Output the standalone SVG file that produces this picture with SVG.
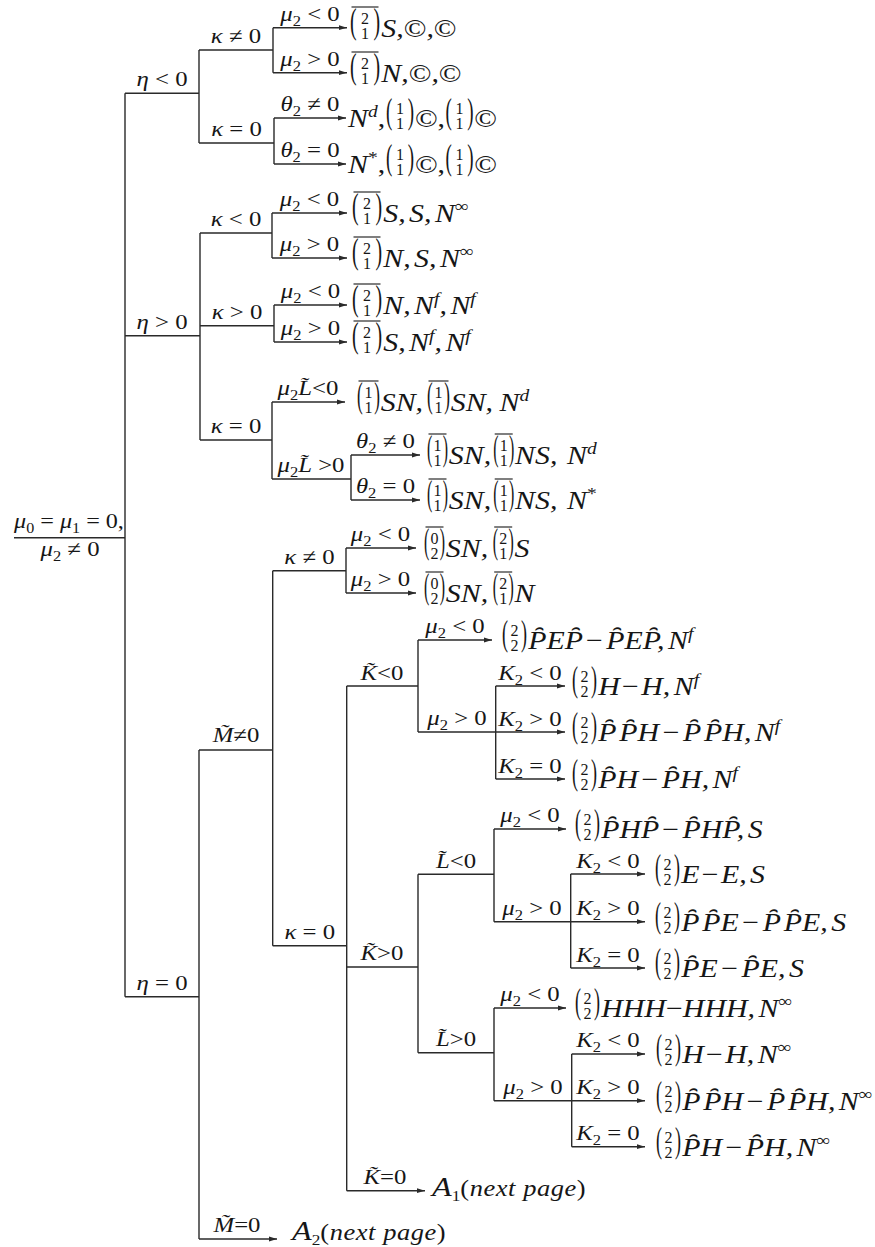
<svg xmlns="http://www.w3.org/2000/svg" width="875" height="1247" viewBox="0 0 875 1247">
<defs>
<marker id="ah" markerWidth="8" markerHeight="6" refX="8" refY="3" orient="auto" markerUnits="userSpaceOnUse"><path d="M0,0.6 L8,3 L0,5.4 z" fill="#2a2a2a"/></marker>
</defs>
<style>
.ln{fill:none;stroke:#2a2a2a;stroke-width:1.4}
.ar{marker-end:url(#ah)}
text{font-family:"Liberation Serif","Times New Roman",serif;fill:#161616}
.lb{font-size:21px;text-anchor:middle}
.rt{font-size:26px;font-style:italic;word-spacing:-3.5px}
.u{font-style:normal}
.i{font-style:italic}
.sb{font-size:14px}
.sp{font-size:17px}
.bp{font-size:18px;font-style:normal}
.bd{font-size:16px;text-anchor:middle;font-style:normal}
.bar{stroke:#2a2a2a;stroke-width:1.2}
</style>
<rect width="875" height="1247" fill="#ffffff"/>

<g id="connectors">
<path class="ln" d="M14,537.7H125 M125,93.3V996.7"/>
<path class="ln" d="M125,93.3H199 M199,50V143 M199,50H273 M273,27.7V72.7 M199,143H274 M274,118V164"/>
<path class="ln" d="M125,335.7H200 M200,233V440 M200,233H272 M272,213V258 M200,325.7H274 M274,305V342 M200,440H272 M272,402V479 M272,479H351 M351,455V500"/>
<path class="ln" d="M125,996.7H199 M199,750V1239 M199,750H272.7 M272.7,570.7V945.7 M272.7,570.7H346 M346,548V593 M272.7,945.7H346.7 M346.7,686V1190.7"/>
<path class="ln" d="M346.7,686H418 M418,640V732 M418,732H495.7 M495.7,686V779"/>
<path class="ln" d="M346.7,967H418 M418,874.3V1052.7 M418,874.3H494 M494,829V921.7 M494,921.7H570.7 M570.7,874V968 M418,1052.7H494 M494,1008V1100.7 M494,1100.7H571.7 M571.7,1054V1146.7"/>
<path class="ln ar" d="M273,27.7H347"/>
<path class="ln ar" d="M273,72.7H347"/>
<path class="ln ar" d="M274,118H346"/>
<path class="ln ar" d="M274,164H346"/>
<path class="ln ar" d="M272,213H347"/>
<path class="ln ar" d="M272,258H347"/>
<path class="ln ar" d="M274,305H347"/>
<path class="ln ar" d="M274,342H347"/>
<path class="ln ar" d="M272,402H345"/>
<path class="ln ar" d="M351,455H420"/>
<path class="ln ar" d="M351,500H420"/>
<path class="ln ar" d="M346,548H416"/>
<path class="ln ar" d="M346,593H416"/>
<path class="ln ar" d="M418,640H492"/>
<path class="ln ar" d="M495.7,686H565"/>
<path class="ln ar" d="M495.7,732H565"/>
<path class="ln ar" d="M495.7,779H565"/>
<path class="ln ar" d="M494,829H566"/>
<path class="ln ar" d="M570.7,874H645"/>
<path class="ln ar" d="M570.7,921.7H645"/>
<path class="ln ar" d="M570.7,968H645"/>
<path class="ln ar" d="M494,1008H566"/>
<path class="ln ar" d="M571.7,1054H645"/>
<path class="ln ar" d="M571.7,1100.7H645"/>
<path class="ln ar" d="M571.7,1146.7H645"/>
<path class="ln ar" d="M346.7,1190.7H425"/>
<path class="ln ar" d="M199,1239H277"/>
</g>

<g id="root">
<text class="lb" transform="translate(69,528) scale(1.15,1)"><tspan class="i">μ</tspan><tspan class="sb" dy="4.5">0</tspan><tspan dy="-4.5"> = </tspan><tspan class="i">μ</tspan><tspan class="sb" dy="4.5">1</tspan><tspan dy="-4.5"> = 0,</tspan></text>
<text class="lb" transform="translate(70,556) scale(1.18,1)"><tspan class="i">μ</tspan><tspan class="sb" dy="4.5">2</tspan><tspan dy="-4.5"> ≠ 0</tspan></text>
</g>

<g id="labels">
<g id="n-eta-neg"><text class="lb" transform="translate(162,86) scale(1.18,1)"><tspan class="i">η</tspan> &lt; 0</text></g>
<g id="n-a-kappa-ne"><text class="lb" transform="translate(236,43) scale(1.18,1)"><tspan class="i">κ</tspan> ≠ 0</text></g>
<g id="n-a1"><text class="lb" transform="translate(310,21) scale(1.18,1)"><tspan class="i">μ</tspan><tspan class="sb" dy="4.5">2</tspan><tspan dy="-4.5"> &lt; 0</tspan></text></g>
<g id="n-a2"><text class="lb" transform="translate(310,66) scale(1.18,1)"><tspan class="i">μ</tspan><tspan class="sb" dy="4.5">2</tspan><tspan dy="-4.5"> &gt; 0</tspan></text></g>
<g id="n-a-kappa-eq"><text class="lb" transform="translate(236.5,136) scale(1.18,1)"><tspan class="i">κ</tspan> = 0</text></g>
<g id="n-a3"><text class="lb" transform="translate(310,111) scale(1.18,1)"><tspan class="i">θ</tspan><tspan class="sb" dy="4.5">2</tspan><tspan dy="-4.5"> ≠ 0</tspan></text></g>
<g id="n-a4"><text class="lb" transform="translate(310,157) scale(1.18,1)"><tspan class="i">θ</tspan><tspan class="sb" dy="4.5">2</tspan><tspan dy="-4.5"> = 0</tspan></text></g>

<g id="n-eta-pos"><text class="lb" transform="translate(162,329) scale(1.18,1)"><tspan class="i">η</tspan> &gt; 0</text></g>
<g id="n-b-kappa-neg"><text class="lb" transform="translate(236,226) scale(1.18,1)"><tspan class="i">κ</tspan> &lt; 0</text></g>
<g id="n-b1"><text class="lb" transform="translate(309.5,206) scale(1.18,1)"><tspan class="i">μ</tspan><tspan class="sb" dy="4.5">2</tspan><tspan dy="-4.5"> &lt; 0</tspan></text></g>
<g id="n-b2"><text class="lb" transform="translate(309.5,251) scale(1.18,1)"><tspan class="i">μ</tspan><tspan class="sb" dy="4.5">2</tspan><tspan dy="-4.5"> &gt; 0</tspan></text></g>
<g id="n-b-kappa-pos"><text class="lb" transform="translate(237,319) scale(1.18,1)"><tspan class="i">κ</tspan> &gt; 0</text></g>
<g id="n-b3"><text class="lb" transform="translate(310.5,298) scale(1.18,1)"><tspan class="i">μ</tspan><tspan class="sb" dy="4.5">2</tspan><tspan dy="-4.5"> &lt; 0</tspan></text></g>
<g id="n-b4"><text class="lb" transform="translate(310.5,335) scale(1.18,1)"><tspan class="i">μ</tspan><tspan class="sb" dy="4.5">2</tspan><tspan dy="-4.5"> &gt; 0</tspan></text></g>
<g id="n-b-kappa-eq"><text class="lb" transform="translate(236,433) scale(1.18,1)"><tspan class="i">κ</tspan> = 0</text></g>
<g id="n-b5"><text class="lb" transform="translate(308,395) scale(1.18,1)"><tspan class="i">μ</tspan><tspan class="sb" dy="4.5">2</tspan><tspan class="i" dy="-4.5">L&#x303;</tspan>&lt;0</text></g>
<g id="n-b6"><text class="lb" transform="translate(311,472) scale(1.18,1)"><tspan class="i">μ</tspan><tspan class="sb" dy="4.5">2</tspan><tspan class="i" dy="-4.5">L&#x303;</tspan> &gt;0</text></g>
<g id="n-b7"><text class="lb" transform="translate(385.5,448) scale(1.18,1)"><tspan class="i">θ</tspan><tspan class="sb" dy="4.5">2</tspan><tspan dy="-4.5"> ≠ 0</tspan></text></g>
<g id="n-b8"><text class="lb" transform="translate(385.5,493) scale(1.18,1)"><tspan class="i">θ</tspan><tspan class="sb" dy="4.5">2</tspan><tspan dy="-4.5"> = 0</tspan></text></g>

<g id="n-eta-eq"><text class="lb" transform="translate(162,990) scale(1.18,1)"><tspan class="i">η</tspan> = 0</text></g>
<g id="n-M-ne"><text class="lb" transform="translate(236,742) scale(1.18,1)"><tspan class="i">M&#x303;</tspan>≠0</text></g>
<g id="n-c-kappa-ne"><text class="lb" transform="translate(309.5,564) scale(1.18,1)"><tspan class="i">κ</tspan> ≠ 0</text></g>
<g id="n-c1"><text class="lb" transform="translate(380.5,541) scale(1.18,1)"><tspan class="i">μ</tspan><tspan class="sb" dy="4.5">2</tspan><tspan dy="-4.5"> &lt; 0</tspan></text></g>
<g id="n-c2"><text class="lb" transform="translate(380.5,586) scale(1.18,1)"><tspan class="i">μ</tspan><tspan class="sb" dy="4.5">2</tspan><tspan dy="-4.5"> &gt; 0</tspan></text></g>
<g id="n-c-kappa-eq"><text class="lb" transform="translate(309.7,939) scale(1.18,1)"><tspan class="i">κ</tspan> = 0</text></g>
<g id="n-K-neg"><text class="lb" transform="translate(382,680) scale(1.18,1)"><tspan class="i">K&#x303;</tspan>&lt;0</text></g>
<g id="n-d1"><text class="lb" transform="translate(455,633) scale(1.18,1)"><tspan class="i">μ</tspan><tspan class="sb" dy="4.5">2</tspan><tspan dy="-4.5"> &lt; 0</tspan></text></g>
<g id="n-d2"><text class="lb" transform="translate(457,725) scale(1.18,1)"><tspan class="i">μ</tspan><tspan class="sb" dy="4.5">2</tspan><tspan dy="-4.5"> &gt; 0</tspan></text></g>
<g id="n-d3"><text class="lb" transform="translate(530,680) scale(1.18,1)"><tspan class="i">K</tspan><tspan class="sb" dy="4.5">2</tspan><tspan dy="-4.5"> &lt; 0</tspan></text></g>
<g id="n-d4"><text class="lb" transform="translate(530,726) scale(1.18,1)"><tspan class="i">K</tspan><tspan class="sb" dy="4.5">2</tspan><tspan dy="-4.5"> &gt; 0</tspan></text></g>
<g id="n-d5"><text class="lb" transform="translate(530,773) scale(1.18,1)"><tspan class="i">K</tspan><tspan class="sb" dy="4.5">2</tspan><tspan dy="-4.5"> = 0</tspan></text></g>
<g id="n-K-pos"><text class="lb" transform="translate(382,960) scale(1.18,1)"><tspan class="i">K&#x303;</tspan>&gt;0</text></g>
<g id="n-L-neg"><text class="lb" transform="translate(456,868) scale(1.18,1)"><tspan class="i">L&#x303;</tspan>&lt;0</text></g>
<g id="n-e1"><text class="lb" transform="translate(530,822) scale(1.18,1)"><tspan class="i">μ</tspan><tspan class="sb" dy="4.5">2</tspan><tspan dy="-4.5"> &lt; 0</tspan></text></g>
<g id="n-e2"><text class="lb" transform="translate(532,915) scale(1.18,1)"><tspan class="i">μ</tspan><tspan class="sb" dy="4.5">2</tspan><tspan dy="-4.5"> &gt; 0</tspan></text></g>
<g id="n-e3"><text class="lb" transform="translate(608,868) scale(1.18,1)"><tspan class="i">K</tspan><tspan class="sb" dy="4.5">2</tspan><tspan dy="-4.5"> &lt; 0</tspan></text></g>
<g id="n-e4"><text class="lb" transform="translate(608,915) scale(1.18,1)"><tspan class="i">K</tspan><tspan class="sb" dy="4.5">2</tspan><tspan dy="-4.5"> &gt; 0</tspan></text></g>
<g id="n-e5"><text class="lb" transform="translate(608,962) scale(1.18,1)"><tspan class="i">K</tspan><tspan class="sb" dy="4.5">2</tspan><tspan dy="-4.5"> = 0</tspan></text></g>
<g id="n-L-pos"><text class="lb" transform="translate(456,1046) scale(1.18,1)"><tspan class="i">L&#x303;</tspan>&gt;0</text></g>
<g id="n-f1"><text class="lb" transform="translate(530,1001) scale(1.18,1)"><tspan class="i">μ</tspan><tspan class="sb" dy="4.5">2</tspan><tspan dy="-4.5"> &lt; 0</tspan></text></g>
<g id="n-f2"><text class="lb" transform="translate(533,1094) scale(1.18,1)"><tspan class="i">μ</tspan><tspan class="sb" dy="4.5">2</tspan><tspan dy="-4.5"> &gt; 0</tspan></text></g>
<g id="n-f3"><text class="lb" transform="translate(608,1047) scale(1.18,1)"><tspan class="i">K</tspan><tspan class="sb" dy="4.5">2</tspan><tspan dy="-4.5"> &lt; 0</tspan></text></g>
<g id="n-f4"><text class="lb" transform="translate(608,1094) scale(1.18,1)"><tspan class="i">K</tspan><tspan class="sb" dy="4.5">2</tspan><tspan dy="-4.5"> &gt; 0</tspan></text></g>
<g id="n-f5"><text class="lb" transform="translate(608,1140) scale(1.18,1)"><tspan class="i">K</tspan><tspan class="sb" dy="4.5">2</tspan><tspan dy="-4.5"> = 0</tspan></text></g>
<g id="n-K-eq"><text class="lb" transform="translate(385,1184) scale(1.18,1)"><tspan class="i">K&#x303;</tspan>=0</text></g>
<g id="n-M-eq"><text class="lb" transform="translate(237,1232) scale(1.18,1)"><tspan class="i">M&#x303;</tspan>=0</text></g>
</g>

<g id="results">
<g id="res1" transform="translate(350,37)">
<g><text class="bp" transform="translate(0,-4.3) scale(1.1,1.95)">(</text><text class="bd" x="15" y="-13">2</text><text class="bd" x="15" y="2">1</text><text class="bp" transform="translate(23.4,-4.3) scale(1.1,1.95)">)</text><line class="bar" x1="1.5" y1="-30" x2="28.5" y2="-30"/></g>
<text class="rt" transform="scale(1.15,1)" x="27.2" y="0">S,<tspan class="u">©</tspan>,<tspan class="u">©</tspan></text>
</g>
<g id="res2" transform="translate(350,82)">
<g><text class="bp" transform="translate(0,-4.3) scale(1.1,1.95)">(</text><text class="bd" x="15" y="-13">2</text><text class="bd" x="15" y="2">1</text><text class="bp" transform="translate(23.4,-4.3) scale(1.1,1.95)">)</text><line class="bar" x1="1.5" y1="-30" x2="28.5" y2="-30"/></g>
<text class="rt" transform="scale(1.15,1)" x="27.2" y="0">N,<tspan class="u">©</tspan>,<tspan class="u">©</tspan></text>
</g>
<g id="res3" transform="translate(348,127)">
<text class="rt" transform="scale(1.15,1)" y="0"><tspan x="0">N</tspan><tspan class="sp" dy="-10">d</tspan><tspan class="u" dy="10">,</tspan><tspan class="u" x="58.2">©,</tspan><tspan class="u" x="109.8">©</tspan></text>
<g transform="translate(38,0)"><text class="bp" transform="translate(0,-4.3) scale(1.05,1.95)">(</text><text class="bd" x="14" y="-13">1</text><text class="bd" x="14" y="2">1</text><text class="bp" transform="translate(21.7,-4.3) scale(1.05,1.95)">)</text></g>
<g transform="translate(97.5,0)"><text class="bp" transform="translate(0,-4.3) scale(1.05,1.95)">(</text><text class="bd" x="14" y="-13">1</text><text class="bd" x="14" y="2">1</text><text class="bp" transform="translate(21.7,-4.3) scale(1.05,1.95)">)</text></g>
</g>
<g id="res4" transform="translate(348,173)">
<text class="rt" transform="scale(1.15,1)" y="0"><tspan x="0">N</tspan><tspan class="sp u" dy="-10">*</tspan><tspan class="u" dy="10">,</tspan><tspan class="u" x="58.2">©,</tspan><tspan class="u" x="109.8">©</tspan></text>
<g transform="translate(38,0)"><text class="bp" transform="translate(0,-4.3) scale(1.05,1.95)">(</text><text class="bd" x="14" y="-13">1</text><text class="bd" x="14" y="2">1</text><text class="bp" transform="translate(21.7,-4.3) scale(1.05,1.95)">)</text></g>
<g transform="translate(97.5,0)"><text class="bp" transform="translate(0,-4.3) scale(1.05,1.95)">(</text><text class="bd" x="14" y="-13">1</text><text class="bd" x="14" y="2">1</text><text class="bp" transform="translate(21.7,-4.3) scale(1.05,1.95)">)</text></g>
</g>

<g id="res5" transform="translate(352,222)">
<g><text class="bp" transform="translate(0,-4.3) scale(1.1,1.95)">(</text><text class="bd" x="15" y="-13">2</text><text class="bd" x="15" y="2">1</text><text class="bp" transform="translate(23.4,-4.3) scale(1.1,1.95)">)</text><line class="bar" x1="1.5" y1="-30" x2="28.5" y2="-30"/></g>
<text class="rt" transform="scale(1.15,1)" x="27.2" y="0">S, S, N<tspan class="sp u" dy="-10">∞</tspan></text>
</g>
<g id="res6" transform="translate(352,267)">
<g><text class="bp" transform="translate(0,-4.3) scale(1.1,1.95)">(</text><text class="bd" x="15" y="-13">2</text><text class="bd" x="15" y="2">1</text><text class="bp" transform="translate(23.4,-4.3) scale(1.1,1.95)">)</text><line class="bar" x1="1.5" y1="-30" x2="28.5" y2="-30"/></g>
<text class="rt" transform="scale(1.15,1)" x="27.2" y="0">N, S, N<tspan class="sp u" dy="-10">∞</tspan></text>
</g>
<g id="res7" transform="translate(352,314)">
<g><text class="bp" transform="translate(0,-4.3) scale(1.1,1.95)">(</text><text class="bd" x="15" y="-13">2</text><text class="bd" x="15" y="2">1</text><text class="bp" transform="translate(23.4,-4.3) scale(1.1,1.95)">)</text><line class="bar" x1="1.5" y1="-30" x2="28.5" y2="-30"/></g>
<text class="rt" transform="scale(1.15,1)" x="27.2" y="0">N, N<tspan class="sp" dy="-10">f</tspan><tspan dy="10">, N</tspan><tspan class="sp" dy="-10">f</tspan></text>
</g>
<g id="res8" transform="translate(352,351)">
<g><text class="bp" transform="translate(0,-4.3) scale(1.1,1.95)">(</text><text class="bd" x="15" y="-13">2</text><text class="bd" x="15" y="2">1</text><text class="bp" transform="translate(23.4,-4.3) scale(1.1,1.95)">)</text><line class="bar" x1="1.5" y1="-30" x2="28.5" y2="-30"/></g>
<text class="rt" transform="scale(1.15,1)" x="27.2" y="0">S, N<tspan class="sp" dy="-10">f</tspan><tspan dy="10">, N</tspan><tspan class="sp" dy="-10">f</tspan></text>
</g>
<g id="res9" transform="translate(357,411)">
<g><text class="bp" transform="translate(0,-4.3) scale(0.95,1.95)">(</text><text class="bd" x="11.5" y="-13">1</text><text class="bd" x="11.5" y="2">1</text><text class="bp" transform="translate(17.3,-4.3) scale(0.95,1.95)">)</text><line class="bar" x1="1.5" y1="-30" x2="21.5" y2="-30"/></g>
<g transform="translate(70,0)"><text class="bp" transform="translate(0,-4.3) scale(0.95,1.95)">(</text><text class="bd" x="11.5" y="-13">1</text><text class="bd" x="11.5" y="2">1</text><text class="bp" transform="translate(17.3,-4.3) scale(0.95,1.95)">)</text><line class="bar" x1="1.5" y1="-30" x2="21.5" y2="-30"/></g>
<text class="rt" transform="scale(1.15,1)" y="0"><tspan x="20.65">SN,</tspan><tspan x="81.5">SN,</tspan><tspan x="123.9">N</tspan><tspan class="sp" dy="-10">d</tspan></text>
</g>
<g id="res10" transform="translate(427,464)">
<g><text class="bp" transform="translate(0,-4.3) scale(0.88,1.95)">(</text><text class="bd" x="10.5" y="-13">1</text><text class="bd" x="10.5" y="2">1</text><text class="bp" transform="translate(15.7,-4.3) scale(0.88,1.95)">)</text><line class="bar" x1="1.5" y1="-30" x2="19.5" y2="-30"/></g>
<g transform="translate(66.2,0)"><text class="bp" transform="translate(0,-4.3) scale(0.88,1.95)">(</text><text class="bd" x="10.5" y="-13">1</text><text class="bd" x="10.5" y="2">1</text><text class="bp" transform="translate(15.7,-4.3) scale(0.88,1.95)">)</text><line class="bar" x1="1.5" y1="-30" x2="19.5" y2="-30"/></g>
<text class="rt" transform="scale(1.15,1)" y="0"><tspan x="19">SN,</tspan><tspan x="76.6">NS,</tspan><tspan x="121.7">N</tspan><tspan class="sp" dy="-10">d</tspan></text>
</g>
<g id="res11" transform="translate(427,509)">
<g><text class="bp" transform="translate(0,-4.3) scale(0.88,1.95)">(</text><text class="bd" x="10.5" y="-13">1</text><text class="bd" x="10.5" y="2">1</text><text class="bp" transform="translate(15.7,-4.3) scale(0.88,1.95)">)</text><line class="bar" x1="1.5" y1="-30" x2="19.5" y2="-30"/></g>
<g transform="translate(66.2,0)"><text class="bp" transform="translate(0,-4.3) scale(0.88,1.95)">(</text><text class="bd" x="10.5" y="-13">1</text><text class="bd" x="10.5" y="2">1</text><text class="bp" transform="translate(15.7,-4.3) scale(0.88,1.95)">)</text><line class="bar" x1="1.5" y1="-30" x2="19.5" y2="-30"/></g>
<text class="rt" transform="scale(1.15,1)" y="0"><tspan x="19">SN,</tspan><tspan x="76.6">NS,</tspan><tspan x="121.7">N</tspan><tspan class="sp u" dy="-10">*</tspan></text>
</g>

<g id="res12" transform="translate(424,557)">
<g><text class="bp" transform="translate(0,-4.3) scale(0.88,1.95)">(</text><text class="bd" x="10.5" y="-13">0</text><text class="bd" x="10.5" y="2">2</text><text class="bp" transform="translate(15.7,-4.3) scale(0.88,1.95)">)</text><line class="bar" x1="1.5" y1="-30" x2="19.5" y2="-30"/></g>
<g transform="translate(68.7,0)"><text class="bp" transform="translate(0,-4.3) scale(0.88,1.95)">(</text><text class="bd" x="10.5" y="-13">2</text><text class="bd" x="10.5" y="2">1</text><text class="bp" transform="translate(15.7,-4.3) scale(0.88,1.95)">)</text><line class="bar" x1="1.5" y1="-30" x2="19.5" y2="-30"/></g>
<text class="rt" transform="scale(1.15,1)" y="0"><tspan x="19">SN,</tspan><tspan x="78.8">S</tspan></text>
</g>
<g id="res13" transform="translate(424,602)">
<g><text class="bp" transform="translate(0,-4.3) scale(0.88,1.95)">(</text><text class="bd" x="10.5" y="-13">0</text><text class="bd" x="10.5" y="2">2</text><text class="bp" transform="translate(15.7,-4.3) scale(0.88,1.95)">)</text><line class="bar" x1="1.5" y1="-30" x2="19.5" y2="-30"/></g>
<g transform="translate(68.7,0)"><text class="bp" transform="translate(0,-4.3) scale(0.88,1.95)">(</text><text class="bd" x="10.5" y="-13">2</text><text class="bd" x="10.5" y="2">1</text><text class="bp" transform="translate(15.7,-4.3) scale(0.88,1.95)">)</text><line class="bar" x1="1.5" y1="-30" x2="19.5" y2="-30"/></g>
<text class="rt" transform="scale(1.15,1)" y="0"><tspan x="19">SN,</tspan><tspan x="78.8">N</tspan></text>
</g>

<g id="res14" transform="translate(502,649)">
<g><text class="bp" transform="translate(0,-4.3) scale(1,1.95)">(</text><text class="bd" x="12.5" y="-13">2</text><text class="bd" x="12.5" y="2">2</text><text class="bp" transform="translate(19,-4.3) scale(1,1.95)">)</text></g>
<text class="rt" transform="scale(1.15,1)" x="22.8" y="0">P&#x311;EP&#x311; <tspan class="u">&#x2212;</tspan> P&#x311;EP&#x311;, N<tspan class="sp" dy="-10">f</tspan></text>
</g>
<g id="res15" transform="translate(572,695)">
<g><text class="bp" transform="translate(0,-4.3) scale(1,1.95)">(</text><text class="bd" x="12.5" y="-13">2</text><text class="bd" x="12.5" y="2">2</text><text class="bp" transform="translate(19,-4.3) scale(1,1.95)">)</text></g>
<text class="rt" transform="scale(1.15,1)" x="22.8" y="0">H<tspan class="u" dx="2">&#x2212;</tspan><tspan dx="2">H, N</tspan><tspan class="sp" dy="-10">f</tspan></text>
</g>
<g id="res16" transform="translate(572,741)">
<g><text class="bp" transform="translate(0,-4.3) scale(1,1.95)">(</text><text class="bd" x="12.5" y="-13">2</text><text class="bd" x="12.5" y="2">2</text><text class="bp" transform="translate(19,-4.3) scale(1,1.95)">)</text></g>
<text class="rt" transform="scale(1.15,1)" x="22.8" y="0">P&#x311; P&#x311;H <tspan class="u">&#x2212;</tspan> P&#x311; P&#x311;H, N<tspan class="sp" dy="-10">f</tspan></text>
</g>
<g id="res17" transform="translate(572,788)">
<g><text class="bp" transform="translate(0,-4.3) scale(1,1.95)">(</text><text class="bd" x="12.5" y="-13">2</text><text class="bd" x="12.5" y="2">2</text><text class="bp" transform="translate(19,-4.3) scale(1,1.95)">)</text></g>
<text class="rt" transform="scale(1.15,1)" x="22.8" y="0">P&#x311;H <tspan class="u">&#x2212;</tspan> P&#x311;H, N<tspan class="sp" dy="-10">f</tspan></text>
</g>
<g id="res18" transform="translate(575,838)">
<g><text class="bp" transform="translate(0,-4.3) scale(1,1.95)">(</text><text class="bd" x="12.5" y="-13">2</text><text class="bd" x="12.5" y="2">2</text><text class="bp" transform="translate(19,-4.3) scale(1,1.95)">)</text></g>
<text class="rt" transform="scale(1.15,1)" x="22.8" y="0">P&#x311;HP&#x311; <tspan class="u">&#x2212;</tspan> P&#x311;HP&#x311;, S</text>
</g>
<g id="res19" transform="translate(655,883)">
<g><text class="bp" transform="translate(0,-4.3) scale(1,1.95)">(</text><text class="bd" x="12.5" y="-13">2</text><text class="bd" x="12.5" y="2">2</text><text class="bp" transform="translate(19,-4.3) scale(1,1.95)">)</text></g>
<text class="rt" transform="scale(1.15,1)" x="22.8" y="0">E<tspan class="u" dx="2">&#x2212;</tspan><tspan dx="2">E, S</tspan></text>
</g>
<g id="res20" transform="translate(655,931)">
<g><text class="bp" transform="translate(0,-4.3) scale(1,1.95)">(</text><text class="bd" x="12.5" y="-13">2</text><text class="bd" x="12.5" y="2">2</text><text class="bp" transform="translate(19,-4.3) scale(1,1.95)">)</text></g>
<text class="rt" transform="scale(1.15,1)" x="22.8" y="0">P&#x311; P&#x311;E <tspan class="u">&#x2212;</tspan> P&#x311; P&#x311;E, S</text>
</g>
<g id="res21" transform="translate(655,977)">
<g><text class="bp" transform="translate(0,-4.3) scale(1,1.95)">(</text><text class="bd" x="12.5" y="-13">2</text><text class="bd" x="12.5" y="2">2</text><text class="bp" transform="translate(19,-4.3) scale(1,1.95)">)</text></g>
<text class="rt" transform="scale(1.15,1)" x="22.8" y="0">P&#x311;E <tspan class="u">&#x2212;</tspan> P&#x311;E, S</text>
</g>
<g id="res22" transform="translate(575,1017)">
<g><text class="bp" transform="translate(0,-4.3) scale(1,1.95)">(</text><text class="bd" x="12.5" y="-13">2</text><text class="bd" x="12.5" y="2">2</text><text class="bp" transform="translate(19,-4.3) scale(1,1.95)">)</text></g>
<text class="rt" transform="scale(1.15,1)" x="22.8" y="0">HHH<tspan class="u">&#x2212;</tspan>HHH, N<tspan class="sp u" dy="-10">∞</tspan></text>
</g>
<g id="res23" transform="translate(656,1063)">
<g><text class="bp" transform="translate(0,-4.3) scale(1,1.95)">(</text><text class="bd" x="12.5" y="-13">2</text><text class="bd" x="12.5" y="2">2</text><text class="bp" transform="translate(19,-4.3) scale(1,1.95)">)</text></g>
<text class="rt" transform="scale(1.15,1)" x="22.8" y="0">H<tspan class="u" dx="2">&#x2212;</tspan><tspan dx="2">H, N</tspan><tspan class="sp u" dy="-10">∞</tspan></text>
</g>
<g id="res24" transform="translate(656,1110)">
<g><text class="bp" transform="translate(0,-4.3) scale(1,1.95)">(</text><text class="bd" x="12.5" y="-13">2</text><text class="bd" x="12.5" y="2">2</text><text class="bp" transform="translate(19,-4.3) scale(1,1.95)">)</text></g>
<text class="rt" transform="scale(1.15,1)" x="22.8" y="0">P&#x311; P&#x311;H <tspan class="u">&#x2212;</tspan> P&#x311; P&#x311;H, N<tspan class="sp u" dy="-10">∞</tspan></text>
</g>
<g id="res25" transform="translate(656,1156)">
<g><text class="bp" transform="translate(0,-4.3) scale(1,1.95)">(</text><text class="bd" x="12.5" y="-13">2</text><text class="bd" x="12.5" y="2">2</text><text class="bp" transform="translate(19,-4.3) scale(1,1.95)">)</text></g>
<text class="rt" transform="scale(1.15,1)" x="22.8" y="0">P&#x311;H <tspan class="u">&#x2212;</tspan> P&#x311;H, N<tspan class="sp u" dy="-10">∞</tspan></text>
</g>
<g id="res26" transform="translate(432,1196)">
<text class="rt" transform="scale(1.15,1)" x="0" y="0" style="font-size:28px;word-spacing:0">A<tspan class="u" style="font-size:15px" dy="5">1</tspan><tspan dy="-5" style="font-size:23px;letter-spacing:0.5px"><tspan class="u">(</tspan>next page<tspan class="u">)</tspan></tspan></text>
</g>
<g id="res27" transform="translate(292,1240)">
<text class="rt" transform="scale(1.15,1)" x="0" y="0" style="font-size:28px;word-spacing:0">A<tspan class="u" style="font-size:15px" dy="5">2</tspan><tspan dy="-5" style="font-size:23px;letter-spacing:0.5px"><tspan class="u">(</tspan>next page<tspan class="u">)</tspan></tspan></text>
</g>
</g>
</svg>
